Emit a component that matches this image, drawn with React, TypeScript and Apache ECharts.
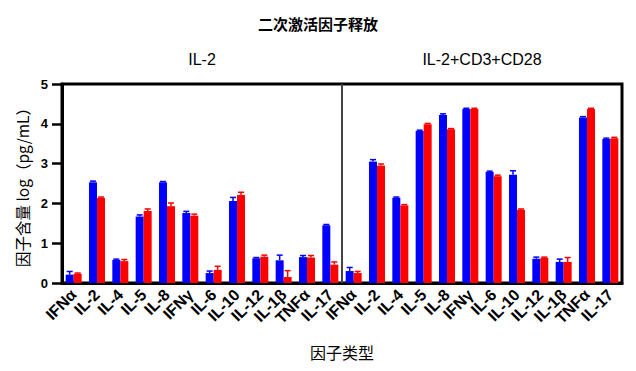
import React, { useEffect, useRef } from 'react';
import * as echarts from 'echarts';

const xLabels = [
  'IFNα', 'IL-2', 'IL-4', 'IL-5', 'IL-8', 'IFNγ', 'IL-6', 'IL-10', 'IL-12', 'IL-1β', 'TNFα', 'IL-17',
  'IFNα', 'IL-2', 'IL-4', 'IL-5', 'IL-8', 'IFNγ', 'IL-6', 'IL-10', 'IL-12', 'IL-1β', 'TNFα', 'IL-17',
];
const categoryIds = xLabels.map((_, i) => String(i));
const blueValues = [0.21, 2.53, 0.58, 1.67, 2.53, 1.76, 0.25, 2.06, 0.62, 0.57, 0.65, 1.45,
  0.30, 3.05, 2.14, 3.82, 4.22, 4.37, 2.79, 2.72, 0.61, 0.53, 4.16, 3.62];
const blueErr = [0.08, 0.03, 0.02, 0.04, 0.02, 0.04, 0.05, 0.09, 0.02, 0.13, 0.04, 0.02,
  0.09, 0.05, 0.02, 0.02, 0.03, 0.02, 0.02, 0.10, 0.04, 0.07, 0.02, 0.02];
const redValues = [0.23, 2.14, 0.55, 1.81, 1.93, 1.69, 0.33, 2.21, 0.66, 0.15, 0.64, 0.46,
  0.25, 2.95, 1.95, 3.99, 3.86, 4.37, 2.68, 1.84, 0.63, 0.53, 4.37, 3.64];
const redErr = [0.02, 0.02, 0.04, 0.05, 0.08, 0.04, 0.09, 0.07, 0.04, 0.16, 0.05, 0.07,
  0.04, 0.04, 0.02, 0.02, 0.02, 0.02, 0.03, 0.02, 0.02, 0.11, 0.02, 0.02];
const groupNames = ['IL-2', 'IL-2+CD3+CD28'];
const yMin = 0;
const yMax = 5;
const yInterval = 1;

const BLUE = '#0000ff';
const RED = '#ff0000';
const LATIN = 'Liberation Sans, Arial, Noto Sans CJK SC, sans-serif';
const CJK = 'Noto Sans CJK SC, sans-serif';

function errorSeries(values: number[], errs: number[], color: string, offset: number) {
  return {
    type: 'custom',
    z: 5,
    encode: { x: 0, y: [1, 2] },
    data: values.map((v, i) => [i, v, v + errs[i]]),
    renderItem: (params: any, api: any) => {
      const i = api.value(0);
      const lo = api.coord([i, api.value(1)]);
      const hi = api.coord([i, api.value(2)]);
      const x = lo[0] + offset;
      const style = { stroke: color, lineWidth: 1.5 };
      return {
        type: 'group',
        children: [
          { type: 'line', shape: { x1: x, y1: lo[1], x2: x, y2: hi[1] }, style },
          { type: 'line', shape: { x1: x - 3, y1: hi[1], x2: x + 3, y2: hi[1] }, style },
        ],
      };
    },
  };
}

export default function App() {
  const ref = useRef<HTMLDivElement>(null);
  useEffect(() => {
    if (!ref.current) return;
    const chart = echarts.init(ref.current, undefined, { renderer: 'svg' });
    const half = xLabels.length / 2;
    chart.setOption({
      animation: false,
      backgroundColor: '#fff',
      title: {
        text: '二次激活因子释放',
        left: 'center',
        top: 11,
        textStyle: { fontSize: 15, fontWeight: 'bold', fontFamily: CJK, color: '#000' },
      },
      grid: {
        left: 62, right: 14, top: 84, bottom: 88,
        show: true, borderColor: '#000', borderWidth: 3, backgroundColor: 'transparent',
      },
      xAxis: {
        type: 'category',
        data: categoryIds,
        name: '因子类型',
        nameLocation: 'middle',
        nameGap: 61,
        nameTextStyle: { fontSize: 16, fontFamily: CJK, color: '#000' },
        axisLine: { lineStyle: { color: '#000', width: 3 } },
        axisTick: { alignWithLabel: true, length: 7, lineStyle: { color: '#000', width: 3 } },
        axisLabel: {
          interval: 0,
          rotate: 45,
          margin: 9,
          fontSize: 16,
          fontWeight: 'bold',
          fontFamily: LATIN,
          color: '#000',
          formatter: (_v: string, idx: number) => xLabels[idx],
        },
        splitLine: { show: false },
      },
      yAxis: {
        type: 'value',
        min: yMin,
        max: yMax,
        interval: yInterval,
        name: '因子含量 log（pg/mL）',
        nameLocation: 'middle',
        nameGap: 27,
        nameTextStyle: { fontSize: 15.5, fontFamily: CJK, color: '#000' },
        axisLine: { show: true, lineStyle: { color: '#000', width: 3 } },
        axisTick: { show: true, length: 10, lineStyle: { color: '#000', width: 2.5 } },
        axisLabel: { fontSize: 13, fontWeight: 'bold', fontFamily: LATIN, color: '#000', margin: 14 },
        splitLine: { show: false },
      },
      graphic: [
        {
          type: 'text', x: 202, y: 59,
          style: { text: groupNames[0], textAlign: 'center', textVerticalAlign: 'middle', fontSize: 16, fontFamily: LATIN, fill: '#000' },
        },
        {
          type: 'text', x: 482, y: 59,
          style: { text: groupNames[1], textAlign: 'center', textVerticalAlign: 'middle', fontSize: 16, fontFamily: LATIN, fill: '#000' },
        },
      ],
      series: [
        {
          type: 'bar', data: blueValues, barWidth: 8, barGap: '0%',
          itemStyle: { color: BLUE }, z: 3,
        },
        {
          type: 'bar', data: redValues, barWidth: 8, barGap: '0%',
          itemStyle: { color: RED }, z: 3,
        },
        errorSeries(blueValues, blueErr, BLUE, -4),
        errorSeries(redValues, redErr, RED, 4),
        {
          type: 'custom',
          z: 6,
          encode: { x: 0, y: 1 },
          data: [[half - 1, yMin]],
          renderItem: (params: any, api: any) => {
            const a = api.coord([half - 1, yMin]);
            const b = api.coord([half, yMin]);
            const t = api.coord([half - 1, yMax]);
            const x = (a[0] + b[0]) / 2;
            return {
              type: 'line',
              shape: { x1: x, y1: t[1], x2: x, y2: a[1] },
              style: { stroke: '#444', lineWidth: 2 },
            };
          },
        },
      ],
    });
    return () => chart.dispose();
  }, []);
  return <div ref={ref} style={{ position: 'fixed', left: 0, top: 0, width: 636, height: 371 }} />;
}
